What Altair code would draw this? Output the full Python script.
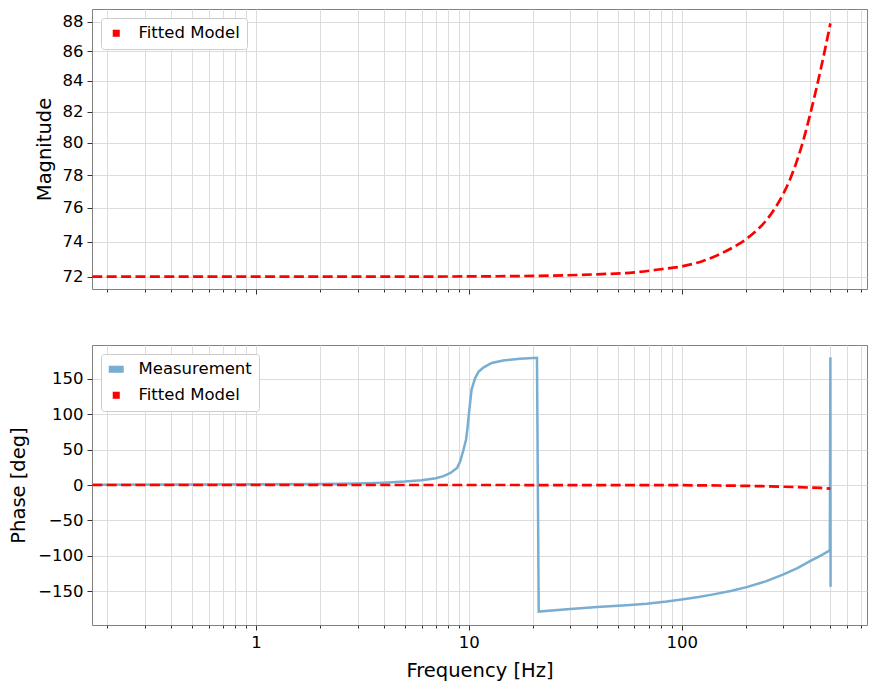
import altair as alt
import pandas as pd

FONT = "DejaVu Sans"

# fitted model magnitude (log y axis)
mag_freq = [0.17, 1, 5, 10, 20, 40, 60, 80, 100, 125, 150, 175, 200, 225, 250,
            275, 300, 325, 350, 375, 400, 425, 450, 475, 500]
mag_model = [72.0, 72.0, 72.0, 72.01, 72.04, 72.13, 72.24, 72.42, 72.58, 72.88, 73.27,
             73.69, 74.14, 74.66, 75.27, 76.0, 76.84, 77.82, 78.97, 80.27, 81.72,
             83.22, 84.75, 86.32, 87.9]

# measured phase (bottom panel)
meas_freq = [0.17, 0.5, 1, 2, 3, 4, 5, 6, 7, 7.6, 8.2, 8.8, 9.1, 9.4, 9.7, 9.85,
             10.0, 10.3, 10.7, 11.1, 11.7, 12.8, 14.5, 17.4, 20.9, 21.3, 30, 40,
             55, 68.5, 85, 100, 120, 141, 170, 202, 250, 301, 350, 401, 450, 497,
             500, 501]
meas_phase = [0.5, 0.6, 0.9, 1.3, 2.1, 3.3, 4.8, 6.8, 9.5, 12.5, 17, 24, 33, 48, 64,
              80, 100, 135, 151, 160, 166, 172.6, 176, 178.7, 180, -179, -175.5,
              -172.6, -170, -167.9, -164.8, -161.8, -158.5, -154.7, -150, -144.4,
              -136, -126.4, -117.5, -107.6, -100, -92.5, 180.5, -143.8]

# fitted model phase
model_freq = [0.17, 10, 50, 100, 150, 200, 250, 300, 350, 400, 450, 500]
model_phase = [0, 0, -0.1, -0.3, -0.7, -1.2, -1.8, -2.5, -3.0, -3.6, -4.2, -5.0]

mag_ticks = [72, 74, 76, 78, 80, 82, 84, 86, 88]
phase_ticks = [-150, -100, -50, 0, 50, 100, 150]
x_ticks = [0.2, 0.3, 0.4, 0.5, 0.6, 0.7, 0.8, 0.9, 1,
           2, 3, 4, 5, 6, 7, 8, 9, 10,
           20, 30, 40, 50, 60, 70, 80, 90, 100,
           200, 300, 400, 500, 600, 700]
major_ticks = [1, 10, 100]

series = ["Measurement", "Fitted Model"]
series_colors = ["#79add2", "#ff0000"]
# legend handles: wide bar for the measurement, small square for the model
series_shapes = ["M-1,-0.47H1V0.47H-1Z", "M-0.47,-0.47H0.47V0.47H-0.47Z"]

mag_df = pd.DataFrame({"freq": mag_freq, "val": mag_model})
meas_df = pd.DataFrame({"freq": meas_freq, "val": meas_phase})
model_df = pd.DataFrame({"freq": model_freq, "val": model_phase})

is_major = " || ".join(f"datum.value == {t}" for t in major_ticks)
x_scale = alt.Scale(type="log", domain=[0.1695, 743], nice=False)


def x_enc(bottom):
    axis = alt.Axis(
        values=x_ticks,
        grid=True,
        tickSize={"condition": {"test": is_major, "value": 5}, "value": 3},
        labels=bottom,
        labelExpr=f"({is_major}) ? format(datum.value, 'd') : ''",
        labelPadding=4,
        title="Frequency [Hz]" if bottom else None,
        titlePadding=11,
    )
    return alt.X("freq:Q", scale=x_scale, axis=axis)


def legend_layer(df, names):
    idx = [series.index(n) for n in names]
    leg = alt.Legend(title=None)
    return alt.Chart(df).mark_point(filled=True, opacity=0).encode(
        x=alt.X("freq:Q", scale=x_scale),
        y=alt.Y("val:Q"),
        color=alt.Color("series:N", legend=leg, scale=alt.Scale(
            domain=names, range=[series_colors[i] for i in idx])),
        shape=alt.Shape("series:N", legend=leg, scale=alt.Scale(
            domain=names, range=[series_shapes[i] for i in idx])),
        size=alt.value(225),
    )


# top panel: magnitude
mag_y = alt.Y("val:Q", scale=alt.Scale(type="log", domain=[71.3, 88.9], nice=False, zero=False),
              axis=alt.Axis(values=mag_ticks, format="d", title="Magnitude", grid=True,
                            tickSize=5, labelPadding=4, titlePadding=8))
mag_line = alt.Chart(mag_df).mark_line(
    color="#ff0000", strokeWidth=2.7, strokeDash=[10, 4.4], interpolate="monotone"
).encode(x=x_enc(False), y=mag_y)
top_leg_df = pd.DataFrame({"series": ["Fitted Model"], "freq": [mag_freq[0]], "val": [mag_model[0]]})
top = alt.layer(mag_line, legend_layer(top_leg_df, ["Fitted Model"])).properties(width=775, height=280)

# bottom panel: phase
ph_y = alt.Y("val:Q", scale=alt.Scale(domain=[-198, 198], nice=False, zero=False),
             axis=alt.Axis(values=phase_ticks, title="Phase [deg]", grid=True,
                           tickSize=5, labelPadding=4, titlePadding=9))
meas_line = alt.Chart(meas_df).mark_line(color="#79add2", strokeWidth=2.5).encode(
    x=x_enc(True), y=ph_y)
model_line = alt.Chart(model_df).mark_line(
    color="#ff0000", strokeWidth=2.7, strokeDash=[10, 4.4]
).encode(x=x_enc(True), y=ph_y)
bot_leg_df = pd.DataFrame({"series": series, "freq": [meas_freq[0], model_freq[0]],
                           "val": [meas_phase[0], model_phase[0]]})
bottom = alt.layer(meas_line, model_line, legend_layer(bot_leg_df, series)).properties(
    width=775, height=280)

chart = (
    alt.vconcat(top, bottom, spacing=49)
    .resolve_scale(color="independent", shape="independent")
    .resolve_legend(color="independent", shape="independent")
    .properties(padding={"left": 0, "top": 0, "right": 0, "bottom": 0})
    .configure_view(stroke="#808080", strokeWidth=1)
    .configure_axis(
        labelFont=FONT, titleFont=FONT, labelFontSize=16.5, titleFontSize=19.5,
        titleFontWeight="normal", labelColor="#000000", titleColor="#000000",
        gridColor="#dcdcdc", gridWidth=1, tickColor="#333333", domain=False,
    )
    .configure_legend(
        orient="top-left", offset=9, padding=7, fillColor="white",
        strokeColor="#cccccc", cornerRadius=3, labelFont=FONT, labelFontSize=16.5,
        labelColor="#000000", symbolSize=225, symbolOpacity=1, symbolStrokeWidth=0,
        labelOffset=14, rowPadding=9,
    )
)

chart.save("out.html", embed_options={"renderer": "svg", "actions": False})
